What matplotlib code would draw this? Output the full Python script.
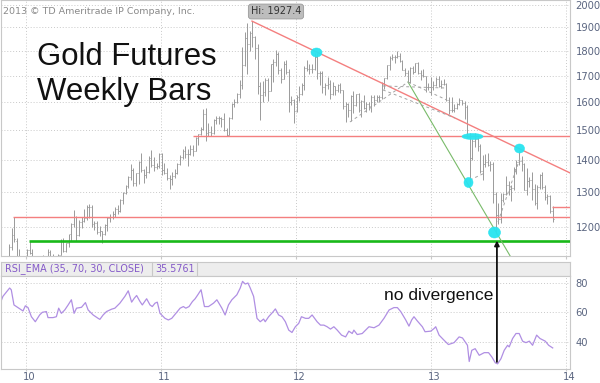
import numpy as np
import pandas as pd
import matplotlib
matplotlib.use('Agg')
import matplotlib.pyplot as plt
from matplotlib.path import Path
from matplotlib.transforms import ScaledTranslation
from matplotlib.lines import Line2D

# ---------------- weekly OHLC (gold futures), weeks starting 2009-11-02 ----------------
opens = [1055,1096,1118,1146,1177,1163,1120,1110,1104,1098,
         1138,1131,1092,1083,1066,1092,1119,1119,1133,1104,
         1107,1105,1126,1162,1136,1156,1180,1209,1228,1177,
         1214,1218,1226,1256,1256,1208,1210,1187,1188,1181,
         1205,1225,1227,1237,1250,1246,1276,1297,1318,1346,
         1368,1328,1359,1394,1368,1353,1363,1406,1385,1379,
         1380,1421,1369,1360,1342,1341,1349,1360,1388,1409,
         1429,1421,1418,1437,1429,1474,1486,1504,1556,1491,
         1492,1491,1536,1542,1541,1539,1501,1483,1542,1594,
         1601,1628,1663,1742,1852,1828,1876,1856,1813,1658,
         1624,1636,1682,1642,1745,1755,1788,1724,1686,1746,
         1713,1598,1606,1566,1617,1630,1665,1729,1725,1725,
         1726,1776,1710,1712,1656,1662,1669,1631,1659,1643,
         1663,1644,1584,1593,1572,1622,1590,1628,1572,1604,
         1578,1592,1585,1619,1608,1620,1617,1671,1691,1740,
         1772,1773,1776,1780,1759,1724,1712,1676,1731,1714,
         1751,1712,1704,1697,1657,1656,1656,1662,1687,1658,
         1667,1667,1609,1572,1572,1577,1592,1608,1595,1581,
         1476,1405,1462,1469,1446,1365,1386,1392,1383,1387,
         1296,1234,1223,1277,1295,1322,1310,1313,1371,1395,
         1396,1387,1308,1333,1338,1310,1268,1315,1352,1316,
         1287,1288,1244]
highs = [1101,1120,1153,1196,1227,1170,1141,1116,1120,1140,
         1163,1142,1112,1120,1093,1126,1121,1142,1138,1128,
         1110,1128,1168,1170,1157,1180,1212,1249,1232,1219,
         1228,1252,1263,1266,1262,1216,1218,1202,1189,1208,
         1227,1236,1244,1256,1262,1280,1300,1321,1349,1388,
         1373,1360,1398,1424,1371,1380,1412,1432,1409,1390,
         1424,1423,1390,1374,1353,1362,1372,1390,1417,1437,
         1445,1437,1448,1448,1476,1487,1510,1575,1577,1526,
         1513,1537,1549,1550,1545,1560,1506,1545,1597,1610,
         1632,1682,1817,1880,1917,1885,1927,1862,1830,1676,
         1680,1690,1689,1748,1765,1803,1793,1730,1760,1764,
         1725,1623,1610,1626,1661,1671,1738,1764,1745,1745,
         1790,1792,1720,1718,1672,1695,1682,1677,1660,1667,
         1673,1646,1598,1597,1627,1642,1629,1632,1606,1627,
         1600,1600,1625,1626,1624,1625,1675,1692,1741,1777,
         1787,1781,1798,1790,1763,1730,1722,1735,1737,1752,
         1754,1723,1725,1700,1672,1695,1679,1694,1697,1683,
         1685,1670,1619,1619,1591,1595,1616,1609,1605,1589,
         1489,1470,1488,1477,1452,1417,1420,1424,1398,1395,
         1300,1267,1298,1298,1348,1333,1322,1378,1399,1434,
         1414,1389,1375,1345,1362,1326,1323,1355,1362,1322,
         1294,1292,1258]
lows = [1043,1090,1115,1137,1160,1115,1093,1075,1088,1093,
        1128,1086,1076,1044,1057,1091,1095,1107,1100,1090,
        1086,1100,1125,1133,1133,1145,1162,1200,1161,1175,
        1196,1215,1220,1226,1200,1191,1180,1175,1157,1178,
        1190,1215,1223,1227,1237,1243,1265,1294,1313,1338,
        1318,1320,1325,1362,1329,1343,1360,1378,1366,1371,
        1376,1354,1355,1337,1309,1322,1342,1357,1384,1404,
        1406,1382,1415,1414,1428,1450,1484,1500,1462,1478,
        1480,1485,1520,1521,1512,1495,1478,1482,1540,1582,
        1595,1615,1650,1738,1705,1800,1817,1766,1630,1535,
        1600,1623,1604,1640,1674,1738,1706,1673,1685,1705,
        1564,1589,1523,1564,1605,1627,1646,1718,1706,1710,
        1722,1688,1662,1635,1627,1650,1612,1627,1626,1637,
        1633,1575,1527,1545,1533,1560,1585,1562,1547,1576,
        1564,1570,1565,1586,1600,1598,1612,1648,1686,1722,
        1762,1752,1772,1754,1723,1698,1675,1671,1705,1713,
        1705,1684,1693,1636,1646,1626,1644,1661,1655,1653,
        1662,1603,1555,1562,1562,1575,1590,1590,1539,1472,
        1321,1400,1441,1430,1359,1338,1378,1380,1364,1268,
        1180,1207,1212,1270,1293,1292,1273,1308,1357,1385,
        1364,1306,1293,1317,1277,1261,1251,1310,1309,1277,
        1266,1240,1214]
closes = [1096,1119,1146,1177,1166,1118,1112,1104,1097,1138,
          1130,1091,1084,1066,1091,1119,1119,1133,1103,1107,
          1105,1126,1162,1136,1156,1179,1209,1228,1177,1213,
          1218,1226,1256,1256,1208,1210,1187,1189,1181,1205,
          1225,1227,1237,1250,1246,1276,1297,1318,1346,1369,
          1328,1359,1394,1368,1353,1363,1406,1385,1379,1380,
          1421,1369,1360,1342,1341,1349,1360,1388,1409,1429,
          1421,1418,1437,1429,1474,1486,1504,1556,1491,1492,
          1491,1536,1542,1541,1539,1501,1483,1542,1594,1601,
          1628,1663,1742,1852,1828,1876,1856,1813,1658,1624,
          1636,1682,1642,1745,1755,1788,1724,1686,1746,1713,
          1598,1606,1566,1617,1630,1665,1729,1725,1725,1726,
          1776,1710,1712,1656,1662,1669,1631,1659,1643,1663,
          1644,1584,1593,1572,1622,1590,1628,1572,1604,1578,
          1592,1585,1619,1608,1620,1617,1671,1691,1740,1772,
          1773,1776,1780,1759,1724,1712,1676,1731,1714,1751,
          1712,1704,1697,1657,1656,1656,1662,1687,1658,1667,
          1667,1609,1572,1572,1577,1592,1608,1595,1581,1476,
          1405,1462,1469,1446,1365,1386,1392,1383,1387,1296,
          1234,1223,1277,1295,1322,1310,1313,1371,1395,1396,
          1387,1308,1333,1338,1310,1268,1315,1352,1316,1287,
          1288,1244,1222]
first_week = '2009-11-02'

# ---------------- RSI_EMA(35) ----------------
rsi_t = [2009.805,2009.829,2009.854,2009.879,2009.891,2009.911,2009.941,2009.978,2009.995,2010.015,
         2010.040,2010.069,2010.101,2010.121,2010.151,2010.163,2010.200,2010.225,2010.242,2010.262,
         2010.287,2010.312,2010.336,2010.356,2010.374,2010.411,2010.440,2010.460,2010.497,2010.534,
         2010.547,2010.571,2010.596,2010.633,2010.658,2010.695,2010.732,2010.757,2010.782,2010.802,
         2010.819,2010.844,2010.861,2010.893,2010.918,2010.935,2010.955,2010.972,2010.992,2011.029,
         2011.054,2011.079,2011.103,2011.141,2011.165,2011.183,2011.207,2011.232,2011.252,2011.272,
         2011.296,2011.321,2011.351,2011.388,2011.413,2011.450,2011.474,2011.499,2011.524,2011.561,
         2011.586,2011.603,2011.623,2011.643,2011.660,2011.685,2011.710,2011.734,2011.759,2011.771,
         2011.796,2011.826,2011.846,2011.870,2011.895,2011.920,2011.945,2011.969,2011.994,
         2012.019,2012.039,2012.069,2012.093,2012.118,2012.155,2012.180,2012.205,2012.229,2012.254,
         2012.279,2012.304,2012.336,2012.366,2012.390,2012.415,2012.427,2012.452,2012.489,2012.539,
         2012.576,2012.613,2012.650,2012.688,2012.724,2012.749,2012.774,2012.811,2012.835,2012.855,
         2012.872,2012.897,2012.934,2012.954,2012.996,2013.021,2013.033,2013.058,2013.095,2013.127,
         2013.169,2013.206,2013.231,2013.268,2013.281,2013.300,2013.325,2013.355,2013.392,2013.424,
         2013.449,2013.474,2013.491,2013.516,2013.540,2013.565,2013.577,2013.602,2013.627,2013.651,
         2013.676,2013.701,2013.726,2013.750,2013.780,2013.805,2013.844,2013.869,2013.899]
rsi_v = [65.1,70.9,73.8,76.6,75.4,65.1,63.3,61.0,64.5,63.3,
         57.1,53.7,58.3,60.1,60.6,56.5,56.5,57.1,62.9,59.4,
         61.7,65.1,68.6,59.4,62.9,63.5,66.7,61.7,58.3,56.0,
         55.3,58.3,60.6,62.2,62.9,66.3,70.9,74.7,67.0,69.7,
         71.5,67.4,65.1,69.3,65.1,64.0,66.3,67.0,59.4,56.0,
         54.9,56.0,58.7,62.9,64.0,62.9,64.0,67.4,69.3,72.0,
         75.4,64.0,64.0,66.3,68.6,62.9,58.3,65.1,68.6,72.0,
         76.6,81.1,79.3,80.0,76.6,70.9,56.0,53.7,55.5,53.7,
         57.1,60.1,62.4,58.3,57.1,53.7,48.0,46.4,50.3,
         52.6,57.1,56.0,56.0,58.3,53.7,51.4,51.4,50.3,48.7,
         50.3,48.0,44.6,43.4,47.3,45.7,48.0,45.0,45.7,50.3,
         49.6,51.4,56.0,61.7,63.3,63.3,60.6,54.9,50.7,54.9,
         57.1,54.2,50.3,46.9,47.3,49.1,50.3,44.6,41.1,38.2,
         39.5,43.4,42.7,37.7,26.7,34.3,35.4,30.9,32.7,32.7,
         29.7,25.8,25.1,28.6,34.3,37.7,36.6,42.3,45.7,45.7,
         40.5,39.5,40.5,37.7,44.6,42.3,40.5,37.7,35.9]
rsi_last = '35.5761'

# ---------------- annotations ----------------
price_ticks = [1200, 1300, 1400, 1500, 1600, 1700, 1800, 1900, 2000]
rsi_ticks = [40, 60, 80]
year_ticks = [2010, 2011, 2012, 2013, 2014]
year_labels = ['10', '11', '12', '13', '14']
hi_label = 'Hi: 1927.4'
trend_t = [2011.673, 2014.027]
trend_p = [1927, 1359]
resist_start, resist_level = 2011.236, 1480
support_start, support_level = 2009.904, 1229
green_start, green_level = 2010.022, 1163
short_start, short_level = 2013.893, 1256
steep_t = [2012.828, 2013.600]
steep_p = [1675, 1113]
dash_t = [[2012.398, 2012.828], [2012.642, 2013.116], [2012.642, 2013.175],
          [2012.828, 2013.116], [2013.286, 2013.397], [2013.494, 2013.657]]
dash_p = [[1528, 1675], [1660, 1652], [1645, 1542],
          [1675, 1607], [1337, 1359], [1214, 1406]]
ell_t = [2012.147, 2013.305, 2013.275, 2013.464, 2013.649]
ell_p = [1795, 1481, 1331, 1186, 1439]
ell_size_px = [(11, 9), (21, 6), (9, 10), (12, 11), (10, 9)]
arrow_t = 2013.486
arrow_rsi, arrow_price = 26.4, 1163
note_t, note_rsi = 2013.457, 68.5

# ---------------- figure ----------------
W, H, DPI = 600, 383, 100
fig = plt.figure(figsize=(W / DPI, H / DPI), dpi=DPI)
def fx(px): return px / W
def fy(py): return 1 - py / H

grey_frame = '#c8c8c8'
lab_col = '#5a6580'
bar_c = '#9a9a9a'
grid_kw = dict(color='#c9c9c9', lw=0.7, ls=(0, (1, 2)))

ax = fig.add_axes([fx(1), fy(256), fx(570) - fx(1), fy(0) - fy(256)])
ax_hdr = fig.add_axes([fx(1), fy(276), fx(570) - fx(1), fy(262) - fy(276)])
ax_r = fig.add_axes([fx(1), fy(369), fx(570) - fx(1), fy(276) - fy(369)])
ax.set_zorder(3); ax_hdr.set_zorder(1); ax_r.set_zorder(2)

x0, x1 = 2009.815, 2014.027
dates = pd.date_range(first_week, periods=len(closes), freq='7D')
t = np.array([d.year + (d.dayofyear - 1) / (366 if d.is_leap_year else 365) for d in dates])

# price panel
ax.set_yscale('log')
ax.set_xlim(x0, x1)
ax.set_ylim(1122.5, 2023)
ax.set_yticks(price_ticks)
ax.set_yticklabels([str(v) for v in price_ticks])
ax.yaxis.set_minor_locator(matplotlib.ticker.NullLocator())
ax.yaxis.tick_right()
ax.set_xticks(year_ticks)
ax.set_xticklabels([])
ax.tick_params(axis='y', length=0, pad=4, labelsize=7.2, labelcolor=lab_col)
ax.tick_params(axis='x', length=2, color=grey_frame)
for sp in ax.spines.values():
    sp.set_color(grey_frame); sp.set_linewidth(0.8)
ax.grid(True, **grid_kw)

d = 0.0068
ax.vlines(t, lows, highs, color=bar_c, lw=0.7, zorder=2)
ax.hlines(opens, t - d, t, color=bar_c, lw=0.7, zorder=2)
ax.hlines(closes, t, t + d, color=bar_c, lw=0.7, zorder=2)

red = '#f47f7f'
ax.plot(trend_t, trend_p, color=red, lw=1.0, zorder=3)
ax.hlines(resist_level, resist_start, x1, color=red, lw=1.0, zorder=3)
ax.hlines(support_level, support_start, x1, color=red, lw=1.0, zorder=3)
ax.hlines(short_level, short_start, x1, color=red, lw=1.0, zorder=3)
ax.hlines(green_level, green_start, x1, color='#19b919', lw=1.9, zorder=3)
ax.plot(steep_t, steep_p, color='#79bb6a', lw=0.8, zorder=3)
for dt_, dp_ in zip(dash_t, dash_p):
    ax.plot(dt_, dp_, color='#a4a4a4', lw=0.7, ls=(0, (3, 3)), zorder=3)

circ = Path.unit_circle()
for et, ep, (w, h) in zip(ell_t, ell_p, ell_size_px):
    mk = Path(circ.vertices * [w, h], circ.codes)
    ax.plot([et], [ep], ls='none', marker=mk, ms=max(w, h) * 72 / DPI,
            mfc='#27e4f0', mec='#27e4f0', mew=0.4, alpha=0.95, zorder=5)

# texts in the price panel
fig.text(fx(3), fy(11), '2013 \u00a9 TD Ameritrade IP Company, Inc.', fontsize=6.8,
         color='#8a8a8a', va='center', ha='left', family='DejaVu Sans')
fig.text(fx(276), fy(11.5), hi_label, fontsize=7.0, color='#333333', ha='center', va='center',
         bbox=dict(boxstyle='round,pad=0.25,rounding_size=0.3', fc='#bdbdbd', ec='#9a9a9a', lw=0.6),
         zorder=10)
fig.text(fx(37), fy(65), 'Gold Futures', fontsize=22.4, family='Liberation Sans',
         color='#111111', va='baseline', ha='left', zorder=10)
fig.text(fx(37), fy(100), 'Weekly Bars', fontsize=22.4, family='Liberation Sans',
         color='#111111', va='baseline', ha='left', zorder=10)

# header band
ax_hdr.set_facecolor('#ededed')
ax_hdr.set_xticks([]); ax_hdr.set_yticks([])
for sp in ax_hdr.spines.values():
    sp.set_color(grey_frame); sp.set_linewidth(0.8)
hdr_col = '#8459c8'
fig.text(fx(5), fy(269), 'RSI_EMA (35, 70, 30, CLOSE)', fontsize=6.9, color=hdr_col,
         va='center', ha='left', zorder=10)
fig.text(fx(155), fy(269), rsi_last, fontsize=6.9, color=hdr_col, va='center', ha='left', zorder=10)
for sx in (151.5, 196.5):
    fig.add_artist(Line2D([fx(sx), fx(sx)], [fy(262), fy(276)], color=grey_frame, lw=0.8))

# RSI panel
ax_r.set_xlim(x0, x1)
ax_r.set_ylim(21.6, 84.75)
ax_r.plot(rsi_t, rsi_v, color='#b08fe3', lw=0.9)
ax_r.set_yticks(rsi_ticks)
ax_r.set_yticklabels([str(v) for v in rsi_ticks])
ax_r.yaxis.tick_right()
ax_r.set_xticks(year_ticks)
ax_r.set_xticklabels(year_labels)
ax_r.tick_params(axis='y', length=0, pad=4, labelsize=7.2, labelcolor=lab_col)
ax_r.tick_params(axis='x', length=1.2, color=grey_frame, pad=0.6, labelsize=7.2, labelcolor=lab_col)
for lab in ax_r.get_xticklabels():
    lab.set_transform(lab.get_transform() + ScaledTranslation(3 / DPI, 0, fig.dpi_scale_trans))
for sp in ax_r.spines.values():
    sp.set_color(grey_frame); sp.set_linewidth(0.8)
ax_r.grid(True, **grid_kw)
ax_r.text(note_t, note_rsi, 'no divergence', fontsize=12.5, family='Liberation Sans',
          color='#111111', ha='right', va='baseline')

# arrow from RSI low up to the price low
ax.annotate('', xy=(arrow_t, arrow_price), xycoords='data',
            xytext=(arrow_t, arrow_rsi), textcoords=ax_r.transData,
            arrowprops=dict(arrowstyle='-|>', color='#111111', lw=1.3, mutation_scale=7,
                            shrinkA=0, shrinkB=0),
            annotation_clip=False, zorder=20)

fig.savefig('out.png', dpi=DPI)
